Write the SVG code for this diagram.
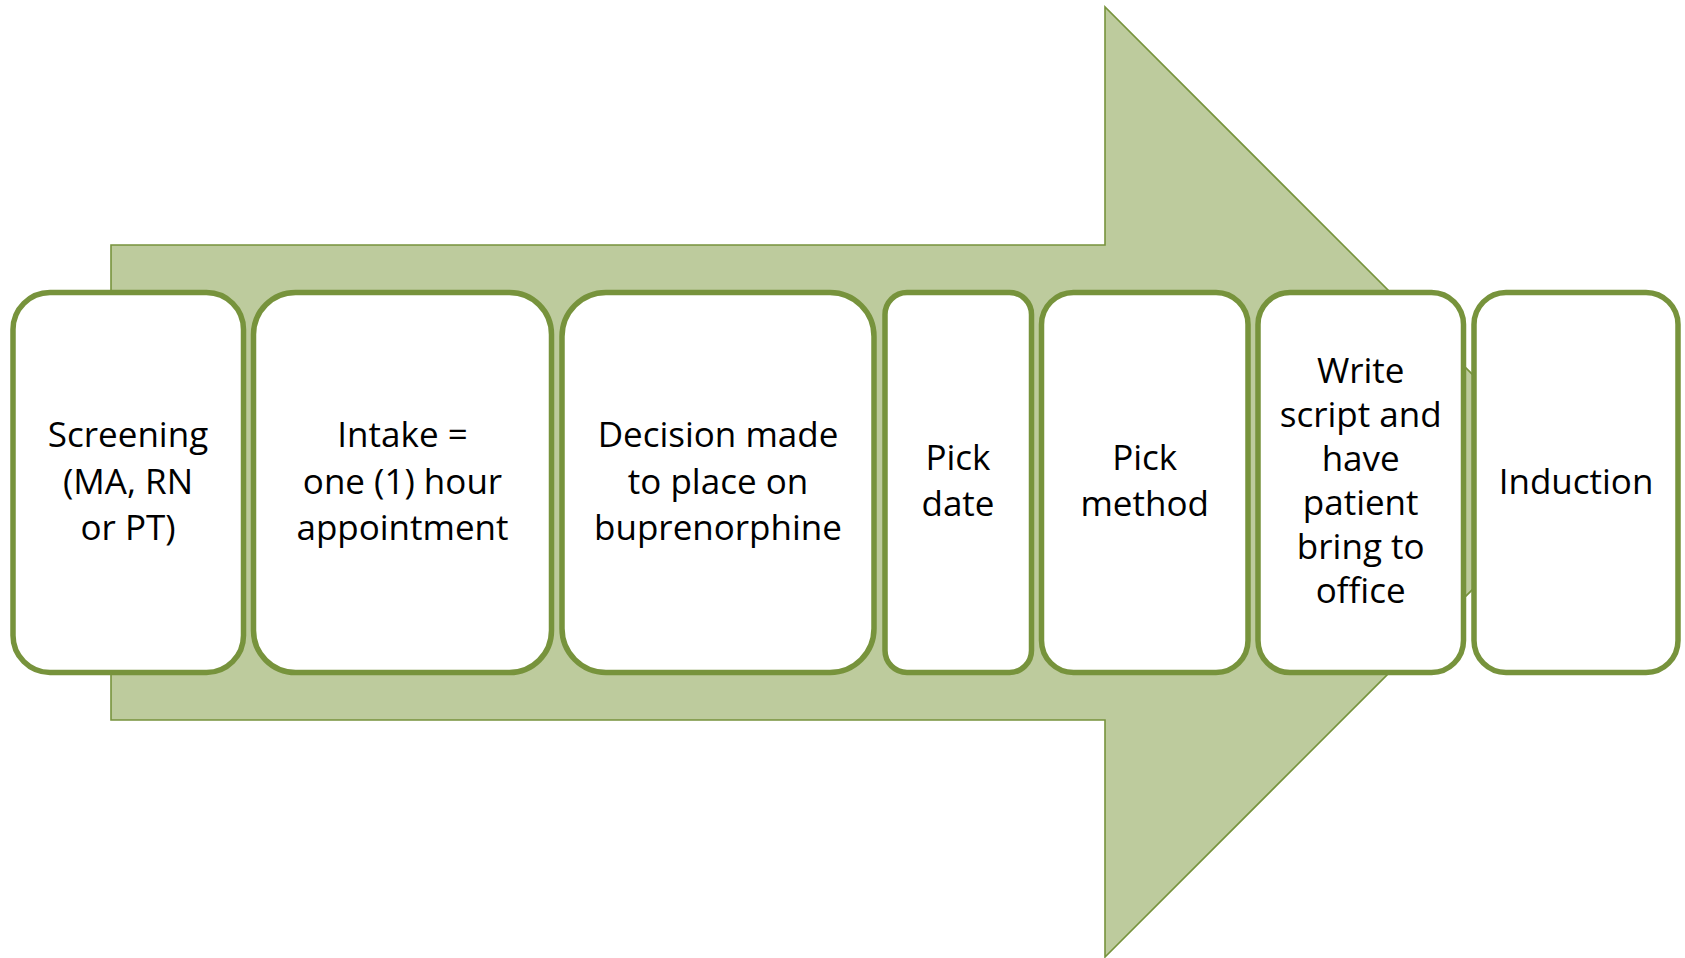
<svg xmlns="http://www.w3.org/2000/svg" width="1685" height="958" viewBox="0 0 1685 958">
<style>
.box{fill:#ffffff;stroke:#77933c;stroke-width:5.5}
.arrow{fill:#bdcb9d;stroke:#77933c;stroke-width:1.6}
text{font-family:"Open Sans","Liberation Sans",sans-serif;font-size:35px;fill:#000;text-anchor:middle}
</style>
<rect width="1685" height="958" fill="#ffffff"/>
<g id="arrow">
<polygon class="arrow" points="111,245 1105,245 1105,7 1580,482 1105,957 1105,720 111,720"/>
</g>
<g id="connectors"></g>
<g id="node1">
<rect class="box" x="13" y="292.5" width="230.5" height="380" rx="37"/>
<text x="128" y="447">Screening</text>
<text x="128" y="494">(MA, RN</text>
<text x="128" y="540">or PT)</text>
</g>
<g id="node2">
<rect class="box" x="253.5" y="292.5" width="298" height="380" rx="42"/>
<text x="402.5" y="447">Intake =</text>
<text x="402.5" y="494">one (1) hour</text>
<text x="402.5" y="540">appointment</text>
</g>
<g id="node3">
<rect class="box" x="562" y="292.5" width="312" height="380" rx="44"/>
<text x="718" y="447">Decision made</text>
<text x="718" y="494">to place on</text>
<text x="718" y="540">buprenorphine</text>
</g>
<g id="node4">
<rect class="box" x="885" y="292.5" width="146.5" height="380" rx="22"/>
<text x="958" y="470">Pick</text>
<text x="958" y="516">date</text>
</g>
<g id="node5">
<rect class="box" x="1041.5" y="292.5" width="206.5" height="380" rx="32"/>
<text x="1144.7" y="470">Pick</text>
<text x="1144.7" y="516">method</text>
</g>
<g id="node6">
<rect class="box" x="1258" y="292.5" width="205.5" height="380" rx="32"/>
<text x="1360.7" y="383">Write</text>
<text x="1360.7" y="427">script and</text>
<text x="1360.7" y="471">have</text>
<text x="1360.7" y="515">patient</text>
<text x="1360.7" y="559">bring to</text>
<text x="1360.7" y="603">office</text>
</g>
<g id="node7">
<rect class="box" x="1474" y="292.5" width="204" height="380" rx="32"/>
<text x="1576" y="494">Induction</text>
</g>
</svg>
